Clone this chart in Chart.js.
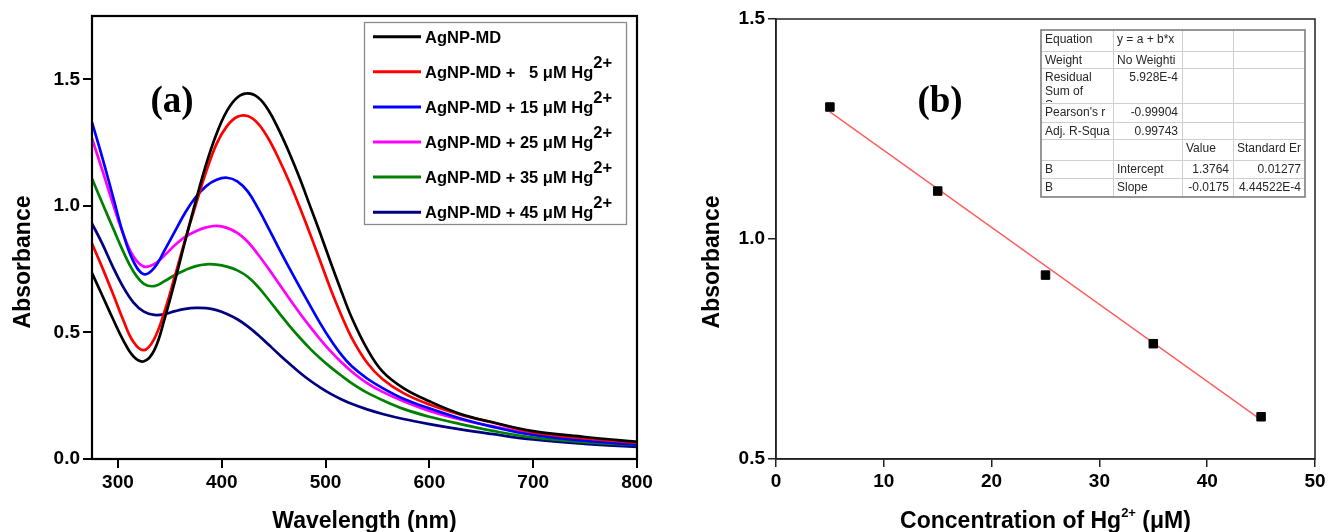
<!DOCTYPE html>
<html>
<head>
<meta charset="utf-8">
<title>AgNP-MD absorbance and Hg2+ calibration</title>
<script src="https://cdn.jsdelivr.net/npm/chart.js@4.4.1/dist/chart.umd.min.js"></script>
<style>
  html, body { margin: 0; padding: 0; background: #fff; }
  #wrap { position: relative; width: 1329px; height: 532px; overflow: hidden; background: #fff; }
  canvas { position: absolute; top: 0; }
  #specChart { left: 0; }
  #calChart { left: 665px; }
</style>
</head>
<body>
<div id="wrap">
  <canvas id="specChart" width="665" height="532"></canvas>
  <canvas id="calChart" width="664" height="532"></canvas>
</div>
<script>
// ---- (a) UV-vis spectra -------------------------------------------------
const wavelengths = [275, 285, 295, 305, 315, 325, 335, 345, 355, 365, 375, 385, 395, 405, 415, 425, 435, 445,
                     455, 465, 475, 485, 495, 505, 515, 525, 540, 555, 575, 600, 630, 660, 700, 750, 800];
const absAgNP = [0.735, 0.645, 0.555, 0.470, 0.405, 0.386, 0.430, 0.555, 0.705, 0.865, 1.020, 1.165, 1.285, 1.375, 1.428, 1.444, 1.428, 1.378,
                 1.300, 1.210, 1.110, 1.000, 0.890, 0.775, 0.665, 0.560, 0.435, 0.345, 0.280, 0.228, 0.178, 0.146, 0.110, 0.087, 0.068];
const absHg5  = [0.851, 0.755, 0.655, 0.550, 0.462, 0.430, 0.475, 0.585, 0.725, 0.870, 1.005, 1.135, 1.245, 1.315, 1.352, 1.355, 1.325, 1.265,
                 1.185, 1.095, 0.995, 0.890, 0.780, 0.670, 0.570, 0.480, 0.380, 0.315, 0.260, 0.215, 0.175, 0.145, 0.105, 0.082, 0.064];
const absHg15 = [1.330, 1.190, 1.040, 0.890, 0.780, 0.730, 0.755, 0.825, 0.900, 0.975, 1.035, 1.078, 1.103, 1.111, 1.097, 1.057, 0.990, 0.912,
                 0.832, 0.755, 0.680, 0.607, 0.535, 0.470, 0.413, 0.367, 0.318, 0.280, 0.238, 0.200, 0.160, 0.128, 0.095, 0.072, 0.056];
const absHg25 = [1.266, 1.140, 1.010, 0.890, 0.800, 0.760, 0.770, 0.805, 0.845, 0.878, 0.900, 0.915, 0.921, 0.913, 0.893, 0.858, 0.808, 0.752,
                 0.693, 0.634, 0.577, 0.523, 0.472, 0.425, 0.383, 0.346, 0.300, 0.265, 0.228, 0.190, 0.156, 0.130, 0.100, 0.078, 0.064];
const absHg35 = [1.108, 1.010, 0.915, 0.820, 0.740, 0.692, 0.683, 0.703, 0.727, 0.747, 0.762, 0.769, 0.768, 0.760, 0.745, 0.720, 0.680, 0.630,
                 0.578, 0.527, 0.480, 0.436, 0.397, 0.362, 0.330, 0.300, 0.262, 0.232, 0.198, 0.167, 0.138, 0.112, 0.085, 0.067, 0.055];
const absHg45 = [0.930, 0.850, 0.760, 0.680, 0.618, 0.582, 0.569, 0.572, 0.584, 0.593, 0.597, 0.596, 0.588, 0.573, 0.552, 0.524, 0.490, 0.452,
                 0.414, 0.377, 0.342, 0.310, 0.282, 0.257, 0.236, 0.218, 0.196, 0.178, 0.158, 0.138, 0.117, 0.099, 0.077, 0.060, 0.048];
const hgDoses = [null, 5, 15, 25, 35, 45];          // µM Hg2+ added to each spectrum
const wavelengthTicks = [300, 400, 500, 600, 700, 800];
const specAbsTicks = [0.0, 0.5, 1.0, 1.5];

// ---- (b) calibration ----------------------------------------------------
const concentrations = [5, 15, 25, 35, 45];
const peakAbsorbance = [1.300, 1.109, 0.918, 0.762, 0.596];
const fitIntercept = 1.3764;
const fitSlope = -0.0175;
const concTicks = [0, 10, 20, 30, 40, 50];
const calAbsTicks = [0.5, 1.0, 1.5];
const fitTable = [
  ['Equation', 'y = a + b*x', '', ''],
  ['Weight', 'No Weighti', '', ''],
  ['Residual\nSum of\nSquares', '5.928E-4', '', ''],
  ["Pearson's r", '-0.99904', '', ''],
  ['Adj. R-Squa', '0.99743', '', ''],
  ['', '', 'Value', 'Standard Er'],
  ['B', 'Intercept', '1.3764', '0.01277'],
  ['B', 'Slope', '-0.0175', '4.44522E-4']
];

const SANS = "'Liberation Sans', Arial, Helvetica, sans-serif";
const SERIF = "'Liberation Serif', 'Times New Roman', serif";
Chart.defaults.font.family = SANS;
Chart.defaults.color = '#000';

const spectra = [
  { values: absAgNP, color: '#000000' },
  { values: absHg5,  color: '#ff0000' },
  { values: absHg15, color: '#0000ff' },
  { values: absHg25, color: '#ff00ff' },
  { values: absHg35, color: '#008000' },
  { values: absHg45, color: '#000080' }
];

function seriesLabel(dose) {
  return dose === null ? 'AgNP-MD' : 'AgNP-MD + ' + dose + ' \u03bcM Hg\u00b2\u207a';
}

function fixTicks(list) {
  return function (scale) { scale.ticks = list.map(v => ({ value: v })); };
}

function tickFont() { return { family: SANS, size: 19, weight: 'bold' }; }

// draws the closed frame around the plot area
function framePlugin(width, color) {
  return {
    id: 'frame',
    afterDatasetsDraw(chart) {
      const { ctx, chartArea: a } = chart;
      ctx.save();
      ctx.strokeStyle = color;
      ctx.lineWidth = width;
      ctx.strokeRect(a.left, a.top, a.right - a.left, a.bottom - a.top);
      ctx.restore();
    }
  };
}

// text with a raised "2+" after the main run; returns the end x
function drawWithCharge(ctx, x, y, text, font, supFont, rise) {
  ctx.font = font;
  ctx.fillText(text, x, y);
  x += ctx.measureText(text).width;
  ctx.font = supFont;
  ctx.fillText('2+', x, y - rise);
  return x + ctx.measureText('2+').width;
}

const specDecor = {
  id: 'specDecor',
  afterDraw(chart) {
    const ctx = chart.ctx;
    ctx.save();
    // legend
    ctx.fillStyle = '#fff';
    ctx.fillRect(364, 22, 263, 202);
    ctx.strokeStyle = '#8a8a8a';
    ctx.lineWidth = 1.3;
    ctx.strokeRect(364.5, 22.5, 262, 202);
    const main = 'bold 16.5px ' + SANS;
    ctx.font = main;
    const slot = ctx.measureText('45').width;
    chart.data.datasets.forEach((ds, i) => {
      const y = 36.7 + i * 35.1;
      ctx.strokeStyle = ds.borderColor;
      ctx.lineWidth = 3;
      ctx.beginPath();
      ctx.moveTo(373, y);
      ctx.lineTo(421, y);
      ctx.stroke();
      ctx.fillStyle = '#000';
      ctx.textBaseline = 'alphabetic';
      ctx.textAlign = 'left';
      ctx.font = main;
      let x = 425;
      const base = y + 6;
      const dose = hgDoses[i];
      if (dose === null) {
        ctx.fillText('AgNP-MD', x, base);
        return;
      }
      const head = 'AgNP-MD + ';
      ctx.fillText(head, x, base);
      x += ctx.measureText(head).width;
      const d = String(dose);
      ctx.fillText(d, x + slot - ctx.measureText(d).width, base);
      x += slot;
      drawWithCharge(ctx, x, base, ' \u03bcM Hg', main, 'bold 16.5px ' + SANS, 10);
    });
    // panel tag
    ctx.fillStyle = '#000';
    ctx.font = 'bold 37px ' + SERIF;
    ctx.textAlign = 'center';
    ctx.textBaseline = 'middle';
    ctx.fillText('(a)', 172, 102);
    // axis titles
    ctx.font = 'bold 23px ' + SANS;
    ctx.fillText('Wavelength (nm)', 364.5, 522);
    ctx.translate(24, 262);
    ctx.rotate(-Math.PI / 2);
    ctx.fillText('Absorbance', 0, 0);
    ctx.restore();
  }
};

new Chart(document.getElementById('specChart'), {
  type: 'line',
  data: {
    datasets: spectra.map((s, i) => ({
      label: seriesLabel(hgDoses[i]),
      data: wavelengths.map((w, k) => ({ x: w, y: s.values[k] })),
      borderColor: s.color,
      backgroundColor: s.color,
      borderWidth: 2.7,
      pointRadius: 0,
      fill: false,
      tension: 0.4
    }))
  },
  options: {
    responsive: false,
    animation: false,
    events: [],
    layout: { padding: { left: 0, top: 16, right: 28, bottom: 0 } },
    plugins: { legend: { display: false }, tooltip: { enabled: false } },
    scales: {
      x: {
        type: 'linear', min: 275, max: 800,
        afterBuildTicks: fixTicks(wavelengthTicks),
        afterFit(s) { s.height = 73; },
        ticks: { font: tickFont(), color: '#000', padding: 3, maxRotation: 0, autoSkip: false },
        grid: { drawOnChartArea: false, drawTicks: true, tickLength: 9, color: '#000', lineWidth: 2 },
        border: { display: true, color: '#000', width: 2 }
      },
      y: {
        type: 'linear', min: 0, max: 1.75,
        afterBuildTicks: fixTicks(specAbsTicks),
        afterFit(s) { s.width = 92; },
        ticks: { font: tickFont(), color: '#000', padding: 3, callback: v => v.toFixed(1) },
        grid: { drawOnChartArea: false, drawTicks: true, tickLength: 9, color: '#000', lineWidth: 2 },
        border: { display: true, color: '#000', width: 2 }
      }
    }
  },
  plugins: [framePlugin(2.2, '#000'), specDecor]
});

// ---- (b) ----------------------------------------------------------------
const calDecor = {
  id: 'calDecor',
  afterDraw(chart) {
    const ctx = chart.ctx;
    ctx.save();
    // fit report table
    const colX = [376, 448, 517, 568, 640];
    const rowY = [30, 51, 68, 103, 122, 139, 160, 178, 197];
    ctx.fillStyle = '#fff';
    ctx.fillRect(colX[0], rowY[0], colX[4] - colX[0], rowY[8] - rowY[0]);
    ctx.strokeStyle = '#cfcfcf';
    ctx.lineWidth = 1;
    for (let r = 1; r < rowY.length - 1; r++) {
      ctx.beginPath(); ctx.moveTo(colX[0], rowY[r] + 0.5); ctx.lineTo(colX[4], rowY[r] + 0.5); ctx.stroke();
    }
    for (let c = 1; c < colX.length - 1; c++) {
      ctx.beginPath(); ctx.moveTo(colX[c] + 0.5, rowY[0]); ctx.lineTo(colX[c] + 0.5, rowY[8]); ctx.stroke();
    }
    ctx.strokeStyle = '#7d7d7d';
    ctx.lineWidth = 1.6;
    ctx.strokeRect(colX[0], rowY[0], colX[4] - colX[0], rowY[8] - rowY[0]);
    ctx.font = '12px ' + SANS;
    ctx.fillStyle = '#262626';
    ctx.textBaseline = 'middle';
    const numeric = /^-?[0-9.]+(E-?[0-9]+)?$/;
    fitTable.forEach((row, r) => {
      row.forEach((cell, c) => {
        if (!cell) return;
        ctx.save();
        ctx.beginPath();
        ctx.rect(colX[c] + 1, rowY[r] + 1, colX[c + 1] - colX[c] - 2, rowY[r + 1] - rowY[r] - 2);
        ctx.clip();
        const lines = cell.split('\n');
        const right = numeric.test(cell);
        ctx.textAlign = right ? 'right' : 'left';
        const x = right ? colX[c + 1] - 4 : colX[c] + 4;
        lines.forEach((ln, k) => ctx.fillText(ln, x, rowY[r] + 10 + k * 14));
        ctx.restore();
      });
    });
    // panel tag
    ctx.fillStyle = '#000';
    ctx.font = 'bold 37px ' + SERIF;
    ctx.textAlign = 'center';
    ctx.textBaseline = 'middle';
    ctx.fillText('(b)', 275, 102);
    // axis titles
    const tFont = 'bold 23px ' + SANS;
    const sFont = 'bold 13px ' + SANS;
    ctx.textAlign = 'left';
    ctx.font = tFont;
    const w1 = ctx.measureText('Concentration of Hg').width;
    const w3 = ctx.measureText(' (\u03bcM)').width;
    ctx.font = sFont;
    const w2 = ctx.measureText('2+').width;
    let x = 380.5 - (w1 + w2 + w3) / 2;
    x = drawWithCharge(ctx, x, 522, 'Concentration of Hg', tFont, sFont, 9);
    ctx.font = tFont;
    ctx.fillText(' (\u03bcM)', x, 522);
    ctx.textAlign = 'center';
    ctx.translate(48, 262);
    ctx.rotate(-Math.PI / 2);
    ctx.fillText('Absorbance', 0, 0);
    ctx.restore();
  }
};

new Chart(document.getElementById('calChart'), {
  type: 'scatter',
  data: {
    datasets: [
      {
        label: 'Peak absorbance',
        data: concentrations.map((c, i) => ({ x: c, y: peakAbsorbance[i] })),
        pointStyle: 'rect',
        pointRadius: 6,
        backgroundColor: '#000',
        borderColor: '#000',
        borderWidth: 1
      },
      {
        type: 'line',
        label: 'Linear fit',
        data: [concentrations[0], concentrations[concentrations.length - 1]]
          .map(c => ({ x: c, y: fitIntercept + fitSlope * c })),
        borderColor: '#ff5a5a',
        borderWidth: 1.3,
        pointRadius: 0,
        fill: false
      }
    ]
  },
  options: {
    responsive: false,
    animation: false,
    events: [],
    layout: { padding: { left: 0, top: 19, right: 14, bottom: 0 } },
    plugins: { legend: { display: false }, tooltip: { enabled: false } },
    scales: {
      x: {
        type: 'linear', min: 0, max: 50,
        afterBuildTicks: fixTicks(concTicks),
        afterFit(s) { s.height = 73; },
        ticks: { font: tickFont(), color: '#000', padding: 3, maxRotation: 0, autoSkip: false },
        grid: { drawOnChartArea: false, drawTicks: true, tickLength: 8, color: '#222', lineWidth: 1.5 },
        border: { display: true, color: '#222', width: 1.5 }
      },
      y: {
        type: 'linear', min: 0.5, max: 1.5,
        afterBuildTicks: fixTicks(calAbsTicks),
        afterFit(s) { s.width = 111; },
        ticks: { font: tickFont(), color: '#000', padding: 3, callback: v => v.toFixed(1) },
        grid: { drawOnChartArea: false, drawTicks: true, tickLength: 8, color: '#222', lineWidth: 1.5 },
        border: { display: true, color: '#222', width: 1.5 }
      }
    }
  },
  plugins: [framePlugin(1.5, '#222'), calDecor]
});
</script>
</body>
</html>
